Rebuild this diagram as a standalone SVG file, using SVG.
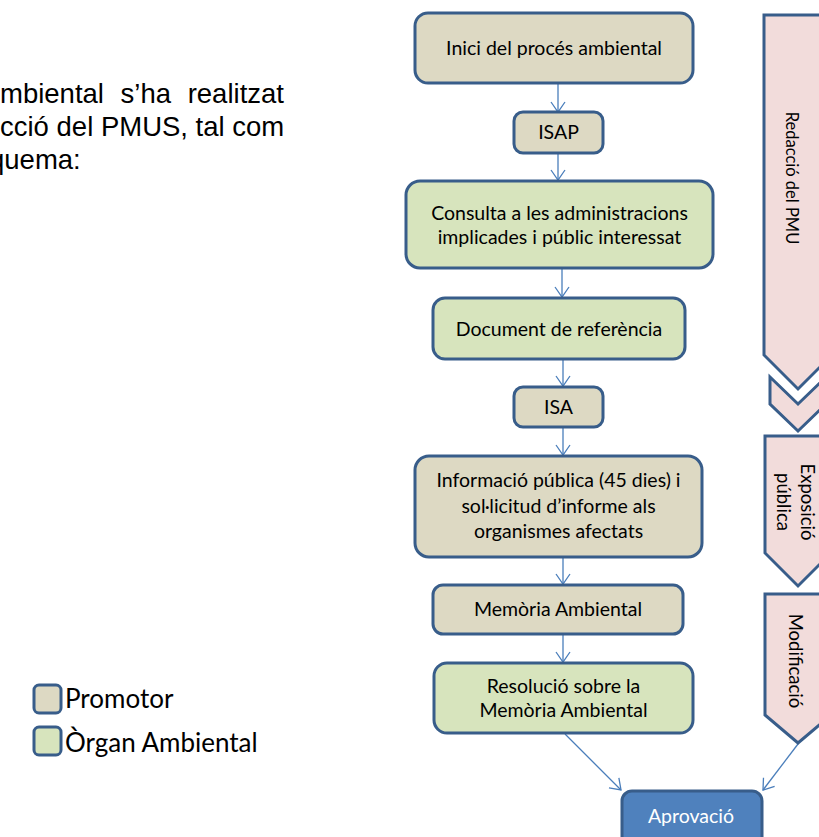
<svg xmlns="http://www.w3.org/2000/svg" width="819" height="837" viewBox="0 0 819 837">
<style>
.box{stroke:#385D8A;stroke-width:3}
.tan{fill:#DDD9C3}
.grn{fill:#D7E4BD}
.pink{fill:#F2DCDB;stroke:#385D8A;stroke-width:3}
.blue{fill:#4F81BD}
.t{font-family:Lato,"Open Sans",sans-serif;font-size:19.5px;fill:#000;text-anchor:middle}
.rt{font-family:Lato,"Open Sans",sans-serif;font-size:18.5px;fill:#000;text-anchor:middle}
.p{font-family:"Liberation Sans",Arial,sans-serif;font-size:27.5px;fill:#000}
.lg{font-family:Lato,"Open Sans",sans-serif;font-size:26px;fill:#000}
.c{stroke:#4A7EBB;stroke-width:1.3;fill:none}
</style>
<defs>
<marker id="ah" markerUnits="userSpaceOnUse" markerWidth="14" markerHeight="16" refX="11" refY="8" orient="auto" viewBox="0 0 14 16">
<path d="M1,1 L11,8 L1,15" fill="none" stroke="#4A7EBB" stroke-width="1.3"/>
</marker>
</defs>

<g id="paragraph">
<text class="p" x="0" y="103" word-spacing="9">mbiental s’ha realitzat</text>
<text class="p" x="0" y="136">cció del PMUS, tal com</text>
<text class="p" x="-11" y="169">quema:</text>
</g>

<g id="legend">
<g id="legend-promotor">
<rect class="box tan" x="34" y="685" width="27" height="28" rx="5"/>
<text class="lg" x="65" y="708">Promotor</text>
</g>
<g id="legend-organ">
<rect class="box grn" x="34" y="727" width="27" height="28" rx="5"/>
<text class="lg" x="65" y="752">Òrgan Ambiental</text>
</g>
</g>

<g id="connectors">
<line class="c" x1="558" y1="84" x2="558" y2="112" marker-end="url(#ah)"/>
<line class="c" x1="558" y1="154" x2="558" y2="180" marker-end="url(#ah)"/>
<line class="c" x1="562" y1="269" x2="562" y2="297" marker-end="url(#ah)"/>
<line class="c" x1="563" y1="360" x2="563" y2="386" marker-end="url(#ah)"/>
<line class="c" x1="563" y1="428" x2="563" y2="455" marker-end="url(#ah)"/>
<line class="c" x1="563" y1="558" x2="563" y2="584" marker-end="url(#ah)"/>
<line class="c" x1="563" y1="635" x2="563" y2="662" marker-end="url(#ah)"/>
<line class="c" x1="565" y1="734" x2="621" y2="790" marker-end="url(#ah)"/>
<line class="c" x1="798" y1="744" x2="763" y2="790" marker-end="url(#ah)"/>
</g>

<g id="n-inici">
<rect class="box tan" x="415" y="13" width="278" height="70" rx="13"/>
<text class="t" x="554" y="55">Inici del procés ambiental</text>
</g>
<g id="n-isap">
<rect class="box tan" x="514" y="112" width="89" height="41" rx="9"/>
<text class="t" x="558.5" y="139">ISAP</text>
</g>
<g id="n-consulta">
<rect class="box grn" x="406" y="181" width="307" height="87" rx="14"/>
<text class="t" x="559.5" y="220">Consulta a les administracions</text>
<text class="t" x="559.5" y="244">implicades i públic interessat</text>
</g>
<g id="n-document">
<rect class="box grn" x="433" y="298" width="252" height="61" rx="12"/>
<text class="t" x="559" y="336">Document de referència</text>
</g>
<g id="n-isa">
<rect class="box tan" x="514" y="387" width="89" height="40" rx="9"/>
<text class="t" x="558.5" y="414">ISA</text>
</g>
<g id="n-informacio">
<rect class="box tan" x="415" y="456" width="287" height="101" rx="14"/>
<text class="t" x="558.5" y="487">Informació pública (45 dies) i</text>
<text class="t" x="558.5" y="513">sol·licitud d’informe als</text>
<text class="t" x="558.5" y="538">organismes afectats</text>
</g>
<g id="n-memoria">
<rect class="box tan" x="433" y="585" width="250" height="49" rx="10"/>
<text class="t" x="558" y="616">Memòria Ambiental</text>
</g>
<g id="n-resolucio">
<rect class="box grn" x="434" y="663" width="259" height="70" rx="13"/>
<text class="t" x="563.5" y="693">Resolució sobre la</text>
<text class="t" x="563.5" y="717">Memòria Ambiental</text>
</g>
<g id="n-aprovacio">
<rect class="box blue" x="622" y="791" width="140" height="62" rx="10"/>
<text class="t" x="691" y="823" style="fill:#fff">Aprovació</text>
</g>

<g id="phase-redaccio">
<polygon class="pink" points="764,15 832,15 832,355 798,389 764,355"/>
<polygon class="pink" points="770,377 798,404 826,377 826,404 798,431 770,404"/>
<text class="rt" transform="translate(792,178) rotate(90)" y="6" style="font-size:16.5px">Redacció del PMU</text>
</g>
<g id="phase-exposicio">
<polygon class="pink" points="765,436 831,436 831,553 798,586 765,553"/>
<text class="rt" transform="translate(807,502) rotate(90)" y="6.5">Exposició</text>
<text class="rt" transform="translate(783,502) rotate(90)" y="6.5">pública</text>
</g>
<g id="phase-modificacio">
<polygon class="pink" points="765,594 831,594 831,715 798,743 765,715"/>
<text class="rt" transform="translate(795,661) rotate(90)" y="6.5">Modificació</text>
</g>
</svg>
